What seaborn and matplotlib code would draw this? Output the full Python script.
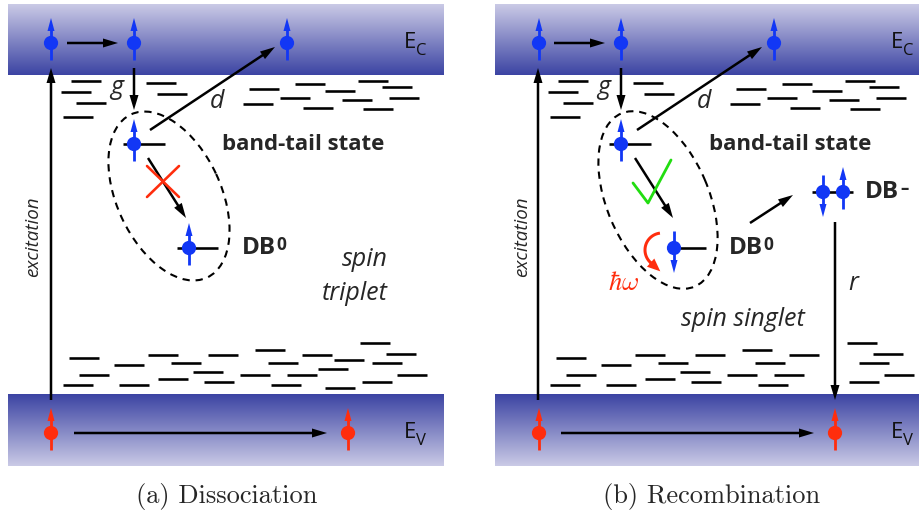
import numpy as np
import pandas as pd
import matplotlib
matplotlib.use("Agg")
import matplotlib.pyplot as plt
import seaborn as sns
from matplotlib.patches import Ellipse, Polygon
from matplotlib.colors import LinearSegmentedColormap

sns.set_theme(style="white")
plt.rcParams['font.family'] = ['Open Sans', 'DejaVu Sans']

# ---------------- data ----------------
captions = ["(a) Dissociation", "(b) Recombination"]
caption_x = [227, 712]
panel_dx = [0, 487]                 # horizontal offset of panel (b)
band_x = [8, 444]
cb_y = [4, 75]
vb_y = [394, 466]

# band-tail states (left x, y) in panel (a) coordinates
tail_top_x = [71, 61, 76, 63, 146, 157, 249, 243, 295, 280, 325, 303, 358, 342, 382, 389, 363]
tail_top_y = [81, 92, 103, 117, 83, 94, 89, 104, 84, 98, 91, 108, 81, 100, 87, 98, 109]
tail_bot_x = [69, 114, 148, 171, 208, 255, 268, 302, 334, 360, 372, 386, 79, 193, 240,
              287, 318, 397, 63, 119, 158, 204, 271, 325, 362]
tail_bot_y = [358, 365, 355, 363, 355, 350, 363, 355, 360, 343, 363, 354, 375, 372, 375,
              375, 369, 375, 385, 385, 379, 382, 385, 388, 382]
tail_bot_skip_b = [8, 16, 23]       # dashes absent in panel (b)
dash_len = 30

# electrons: x, y, spin (+1 up, -1 down), colour key
el_x = [51, 134, 287, 134, 189, 51, 348,
        539, 621, 774, 621, 674, 823, 843, 539, 835]
el_y = [43, 43, 43, 144, 248, 433, 433,
        43, 43, 43, 144, 248, 192, 192, 433, 433]
el_spin = [1, 1, 1, 1, 1, 1, 1,
           1, 1, 1, 1, -1, -1, 1, 1, 1]
el_kind = ["e", "e", "e", "e", "e", "h", "h",
           "e", "e", "e", "e", "e", "e", "e", "h", "h"]

# level lines (x0, x1, y)
lvl_x0 = [123, 177, 609, 667, 812]
lvl_x1 = [165, 218, 651, 706, 853]
lvl_y = [144, 248, 144, 248, 192]

# black transition arrows (panel a coords, repeated in b)
arr_common = [((67, 43), (118, 43)), ((51, 400), (51, 68)), ((134, 68), (134, 110)),
              ((150, 130), (275, 47)), ((148, 158), (186, 218)), ((74, 433), (327, 433))]
arr_b_only = [((750, 223), (793, 195)), ((835, 222), (835, 400))]

# dashed exciton ellipses
ell_cx = [169, 658]
ell_cy = [196, 200]
ell_w = [180, 188]
ell_h = [104, 102]
ell_ang = [65, 67]

BLUE = "#1237f5"
RED = "#ff2d0d"
PX = 0.72   # points per pixel at 100 dpi

# ---------------- figure ----------------
fig = plt.figure(figsize=(9.2, 5.16), dpi=100)
ax = fig.add_axes([0, 0, 1, 1])

cmap = LinearSegmentedColormap.from_list("band", ["#cacae6", "#3c44a3"])
grad = np.linspace(0, 1, 256).reshape(-1, 1)


def arrow(p0, p1, color="black", lw=2.5, hl=15, hw=9, z=4):
    p0 = np.asarray(p0, float)
    p1 = np.asarray(p1, float)
    d = p1 - p0
    u = d / np.hypot(*d)
    n = np.array([-u[1], u[0]])
    base = p1 - u * hl
    end = base + u * 2
    ax.plot([p0[0], end[0]], [p0[1], end[1]], color=color, lw=lw * PX,
            solid_capstyle="butt", zorder=z)
    ax.add_patch(Polygon([p1, base + n * hw / 2, base - n * hw / 2], closed=True,
                         fc=color, ec="none", zorder=z))


for p, dx in enumerate(panel_dx):
    x0, x1 = band_x[0] + dx, min(band_x[1] + dx, 920)
    ax.imshow(grad, cmap=cmap, extent=(x0, x1, cb_y[1], cb_y[0]), origin="upper",
              aspect="auto", zorder=0)
    ax.imshow(grad[::-1], cmap=cmap, extent=(x0, x1, vb_y[1], vb_y[0]), origin="upper",
              aspect="auto", zorder=0)
    # band tails
    ax.hlines(tail_top_y, [x + dx for x in tail_top_x],
              [x + dx + dash_len for x in tail_top_x], color="black", lw=2.6 * PX, zorder=2)
    bx = [x for i, x in enumerate(tail_bot_x) if not (p == 1 and i in tail_bot_skip_b)]
    by = [y for i, y in enumerate(tail_bot_y) if not (p == 1 and i in tail_bot_skip_b)]
    ax.hlines(by, [x + dx for x in bx], [x + dx + dash_len for x in bx],
              color="black", lw=2.6 * PX, zorder=2)
    for (a0, a1) in arr_common:
        arrow((a0[0] + dx, a0[1]), (a1[0] + dx, a1[1]))
    ax.add_patch(Ellipse((ell_cx[p], ell_cy[p]), ell_w[p], ell_h[p], angle=ell_ang[p],
                         fill=False, ec="black", lw=1.5, ls=(0, (3.5, 2.8)), zorder=3))
    # labels
    t = ax.text(404 + dx, 43, "E", fontsize=16, ha="left", va="center", color="#111111")
    ax.annotate("C", xy=(1.0, 0.1), xycoords=t, fontsize=12, ha="left", va="center",
                color="#111111")
    t = ax.text(404 + dx, 433, "E", fontsize=16, ha="left", va="center", color="#111111")
    ax.annotate("V", xy=(1.0, 0.1), xycoords=t, fontsize=12, ha="left", va="center",
                color="#111111")
    ax.text(33 + dx * 1.004, 237, "excitation", rotation=90, style="italic", fontsize=13.5,
            ha="center", va="center")
    ax.text(117 + dx, 88, "g", style="italic", fontsize=18, ha="center", va="center")
    ax.text(217 + dx, 102, "d", style="italic", fontsize=18, ha="center", va="center")
    ax.text(222 + dx, 145, "band-tail state", fontweight="bold", fontsize=16,
            ha="left", va="center")
    t = ax.text(242 + dx, 248, "DB", fontweight="bold", fontsize=17.5, ha="left",
                va="center")
    ax.annotate("0", xy=(1.02, 0.98), xycoords=t, fontweight="bold", fontsize=12.5,
                ha="left", va="top")
    ax.text(caption_x[p], 497, captions[p], family="cmr10", fontsize=19,
            ha="center", va="center")

for (a0, a1) in arr_b_only:
    arrow(a0, a1)

# levels
ax.hlines(lvl_y, lvl_x0, lvl_x1, color="black", lw=2.6 * PX, zorder=3)

# electrons / holes
df = pd.DataFrame({"x": el_x, "y": el_y, "spin": el_spin, "kind": el_kind})
sns.scatterplot(data=df, x="x", y="y", hue="kind", palette={"e": BLUE, "h": RED},
                s=105, linewidth=0, legend=False, ax=ax, zorder=6)
for _, r in df.iterrows():
    c = BLUE if r.kind == "e" else RED
    s = r.spin
    arrow((r.x, r.y + 17 * s), (r.x, r.y - 25 * s), color=c, lw=2.8, hl=13, hw=7, z=5)

# red cross and green tick
ax.plot([147, 179], [166, 197], color=RED, lw=2.6 * PX, zorder=5)
ax.plot([147, 179], [197, 166], color=RED, lw=2.6 * PX, zorder=5)
ax.plot([633, 648, 671], [183, 203, 160], color="#22dd11", lw=2.8 * PX, zorder=5)

# phonon emission arrow (curved)
cx, cy, rr = 662, 250, 17
tt = np.radians(np.linspace(97, 228, 40))
ax.plot(cx + rr * np.cos(tt), cy - rr * np.sin(tt), color=RED, lw=3.0 * PX,
        solid_capstyle="butt", zorder=5)
te = np.radians(228)
pb = np.array([cx + rr * np.cos(te), cy - rr * np.sin(te)])
tang = np.array([-np.sin(te), -np.cos(te)])
arrow(pb - tang * 1.0, pb + tang * 13, color=RED, lw=3.0, hl=13, hw=11, z=5)
ax.text(624, 283, r"$\hbar\omega$", color=RED, fontsize=19, math_fontfamily="cm",
        ha="center", va="center")

# panel (b) labels
t = ax.text(865, 192, "DB", fontweight="bold", fontsize=17.5, ha="left", va="center")
ax.annotate("\u2013", xy=(1.04, 1.02), xycoords=t, fontweight="bold", fontsize=12,
            ha="left", va="top")
ax.text(853, 283, "r", style="italic", fontsize=18, ha="center", va="center")
ax.text(743, 319, "spin singlet", style="italic", fontsize=18, ha="center", va="center")
ax.text(388, 260, "spin", style="italic", fontsize=18, ha="right", va="center")
ax.text(388, 293, "triplet", style="italic", fontsize=18, ha="right", va="center")

ax.set_xlim(0, 920)
ax.set_ylim(516, 0)
ax.axis("off")
fig.savefig("out.png", dpi=100)
